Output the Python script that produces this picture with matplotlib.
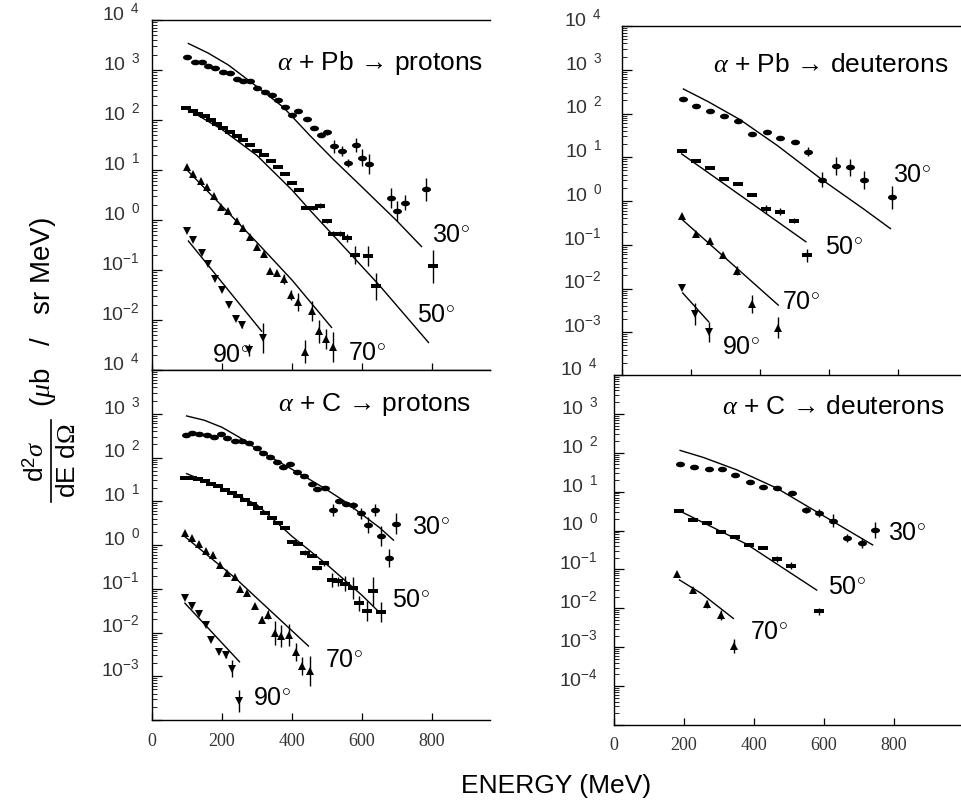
import numpy as np
import matplotlib
matplotlib.use('Agg')
import matplotlib.pyplot as plt
from matplotlib import transforms
from matplotlib.lines import Line2D
from matplotlib.ticker import FixedLocator, LogLocator, NullFormatter, NullLocator

plt.rcParams['font.family'] = ['Liberation Sans', 'DejaVu Sans']
plt.rcParams['mathtext.fontset'] = 'custom'
plt.rcParams['mathtext.rm'] = 'Liberation Serif'
plt.rcParams['mathtext.it'] = 'Liberation Serif:italic'
plt.rcParams['mathtext.sf'] = 'Liberation Sans'

# ---------------- data: alpha + Pb -> protons ----------------
pbp30_E = [99, 123, 142, 161, 180, 204, 223, 242, 261, 280, 301, 323, 342, 361, 380, 399, 418, 442,
           463, 482, 501, 520, 542, 561, 583, 601, 621, 682, 701, 722, 782]
pbp30_y = [1800, 1470, 1470, 1200, 1080, 925, 857, 649, 610, 610, 441, 366, 314, 249, 183, 124, 149, 106,
           70, 51, 57, 30, 24, 13.6, 31, 17.5, 13.2, 2.8, 1.5, 2.2, 4.1]
pbp30_err = [0, 0, 0, 0, 0, 0, 0, 0, 0, 0, 0, 0, 0, 0, 0, 0, 0, 0,
             0, 0.05, 0.05, 0.13, 0.1, 0.08, 0.14, 0.17, 0.2, 0.2, 0.2, 0.15, 0.23]
pbp30_fitE = [104, 160, 218, 271, 320, 376, 451, 520, 600, 700, 770]
pbp30_fit = [3390, 2190, 1260, 661, 363, 178, 49, 15.8, 4.57, 0.955, 0.295]

pbp50_E = [97, 116, 132, 151, 168, 185, 204, 223, 242, 261, 280, 299, 320, 339, 359, 380, 399, 421, 440,
           461, 480, 499, 518, 537, 558, 580, 618, 639, 802]
pbp50_y = [175, 152, 134, 119, 102, 84, 70, 57, 48, 39, 32, 24.5, 19.5, 14.9, 11.3, 8.3, 5.6, 3.95, 1.77,
           1.72, 1.91, 0.95, 0.53, 0.53, 0.44, 0.197, 0.188, 0.047, 0.119]
pbp50_err = [0, 0, 0, 0, 0, 0, 0, 0, 0, 0, 0, 0, 0, 0, 0, 0, 0, 0, 0,
             0.03, 0.05, 0.03, 0.05, 0.05, 0.08, 0.18, 0.2, 0.27, 0.33]
pbp50_fitE = [100, 200, 300, 400, 451, 550, 650, 790]
pbp50_fit = [166, 64.6, 19.5, 3.98, 1.58, 0.282, 0.049, 0.00355]

pbp70_E = [99, 118, 139, 158, 177, 197, 218, 242, 261, 280, 299, 320, 337, 356, 377, 396, 418, 437,
           456, 477, 497, 516]
pbp70_y = [11.7, 8.3, 5.9, 4.5, 3.04, 1.85, 1.52, 0.955, 0.70, 0.455, 0.286, 0.21, 0.094, 0.087, 0.067,
           0.032, 0.0234, 0.0023, 0.0148, 0.006, 0.0042, 0.0029]
pbp70_err = [0, 0, 0, 0, 0, 0, 0, 0, 0, 0, 0, 0, 0, 0, 0.1, 0.1, 0.18, 0.23, 0.2, 0.23, 0.2, 0.3]
pbp70_fitE = [100, 200, 300, 400, 513]
pbp70_fit = [10, 1.9, 0.355, 0.063, 0.0071]

pbp90_E = [99, 118, 142, 161, 180, 199, 221, 240, 256, 278, 318]
pbp90_y = [0.60, 0.39, 0.22, 0.132, 0.067, 0.040, 0.020, 0.0105, 0.0079, 0.0025, 0.0043]
pbp90_err = [0, 0, 0, 0, 0, 0, 0, 0, 0.05, 0.12, 0.3]
pbp90_fitE = [104, 313]
pbp90_fit = [0.38, 0.006]

# ---------------- data: alpha + C -> protons ----------------
cp30_E = [97, 113, 135, 156, 177, 196, 215, 237, 256, 278, 299, 318, 337, 356, 375, 394, 413, 434,
          456, 472, 494, 516, 535, 554, 575, 596, 617, 636, 655, 676, 697]
cp30_y = [327, 357, 344, 327, 290, 344, 280, 243, 235, 211, 163, 125, 105, 81, 60, 72, 46, 37,
          25, 19.5, 20.4, 6.25, 10.2, 8.85, 8.1, 5.25, 2.85, 6.25, 1.6, 0.50, 3.1]
cp30_err = [0, 0, 0, 0, 0, 0, 0, 0, 0, 0, 0, 0, 0, 0, 0, 0, 0, 0,
            0, 0.03, 0.03, 0.13, 0.05, 0.05, 0.08, 0.13, 0.19, 0.13, 0.23, 0.21, 0.23]
cp30_fitE = [99, 150, 200, 250, 300, 350, 400, 450, 500, 550, 600, 650, 690]
cp30_fit = [891, 708, 490, 288, 155, 91, 53.7, 31.6, 18.2, 10, 5.0, 2.5, 1.29]

cp50_E = [95, 113, 132, 151, 170, 190, 209, 228, 247, 266, 285, 304, 323, 342, 361, 380, 399, 418,
          437, 456, 472, 491, 513, 532, 551, 573, 592, 613, 632, 653]
cp50_y = [34.4, 34.4, 31.6, 28.4, 25.2, 21.9, 18.4, 15.5, 13.0, 10.9, 8.85, 7.18, 5.43, 4.25, 3.21, 2.39,
          1.19, 1.05, 0.668, 0.562, 0.295, 0.38, 0.158, 0.148, 0.130, 0.104, 0.047, 0.031, 0.087, 0.029]
cp50_err = [0, 0, 0, 0, 0, 0, 0, 0, 0, 0, 0, 0, 0, 0, 0, 0, 0, 0,
            0.05, 0, 0.05, 0.05, 0.17, 0.1, 0.17, 0.25, 0.17, 0.23, 0.34, 0.23]
cp50_fitE = [99, 200, 300, 400, 500, 600, 651]
cp50_fit = [42.7, 20, 8.3, 1.58, 0.355, 0.0708, 0.0282]

cp70_E = [95, 113, 135, 154, 173, 194, 213, 237, 251, 272, 294, 313, 332, 351, 370, 392, 411, 430, 451]
cp70_y = [1.9, 1.42, 1.05, 0.74, 0.59, 0.35, 0.227, 0.19, 0.098, 0.080, 0.040, 0.0197, 0.0256,
          0.0098, 0.0082, 0.0086, 0.00357, 0.00172, 0.00132]
cp70_err = [0, 0, 0, 0, 0, 0, 0, 0, 0, 0, 0, 0.08, 0.1, 0.28, 0.25, 0.25, 0.21, 0.21, 0.34]
cp70_fitE = [94, 237, 447]
cp70_fit = [1.55, 0.178, 0.0049]

cp90_E = [95, 113, 135, 154, 170, 192, 211, 230, 250]
cp90_y = [0.061, 0.040, 0.027, 0.0152, 0.0067, 0.0036, 0.0030, 0.0015, 0.000275]
cp90_err = [0, 0, 0, 0, 0, 0, 0.06, 0.2, 0.25]
cp90_fitE = [94, 250]
cp90_fit = [0.0468, 0.00214]

# ---------------- data: alpha + Pb -> deuterons ----------------
pbd30_E = [178, 214, 255, 295, 337, 376, 419, 458, 501, 540, 581, 620, 661, 701, 784]
pbd30_y = [213, 150, 115, 88.5, 68, 33.7, 38.7, 28.2, 22, 13.5, 3.03, 6.3, 5.9, 3.03, 1.21]
pbd30_err = [0, 0, 0, 0, 0, 0, 0, 0, 0.05, 0.1, 0.17, 0.2, 0.2, 0.2, 0.27]
pbd30_fitE = [178, 250, 342, 450, 581, 700, 778]
pbd30_fit = [363, 186, 72.4, 18.6, 3.02, 0.66, 0.234]

pbd50_E = [173, 214, 255, 295, 337, 376, 417, 458, 498, 537]
pbd50_y = [14.2, 8.24, 5.8, 3.13, 2.45, 1.37, 0.656, 0.57, 0.355, 0.058]
pbd50_err = [0, 0, 0, 0, 0, 0, 0.1, 0.08, 0.05, 0.15]
pbd50_fitE = [173, 350, 533]
pbd50_fit = [11.9, 1.23, 0.117]

pbd70_E = [173, 214, 255, 293, 334, 376, 453]
pbd70_y = [0.453, 0.175, 0.124, 0.058, 0.0254, 0.00437, 0.00128]
pbd70_err = [0, 0, 0.05, 0.05, 0.1, 0.2, 0.23]
pbd70_fitE = [176, 453]
pbd70_fit = [0.367, 0.00417]

pbd90_E = [173, 211, 253]
pbd90_y = [0.0105, 0.00258, 0.00102]
pbd90_err = [0, 0.25, 0.23]
pbd90_fitE = [176, 251]
pbd90_fit = [0.0079, 0.00174]

# ---------------- data: alpha + C -> deuterons ----------------
cd30_E = [189, 229, 270, 308, 346, 389, 427, 467, 508, 549, 587, 627, 665, 708, 746]
cd30_y = [51.6, 42.4, 37.6, 37.6, 26.9, 18.1, 13.5, 12.7, 9.1, 3.39, 2.78, 1.80, 0.634, 0.471, 1.04]
cd30_err = [0, 0, 0, 0, 0, 0, 0, 0, 0, 0.08, 0.1, 0.17, 0.1, 0.13, 0.2]
cd30_fitE = [189, 255, 351, 465, 570, 739]
cd30_fit = [115, 76, 36.3, 12.3, 3.39, 0.427]

cd50_E = [187, 227, 265, 305, 346, 387, 425, 467, 505, 587]
cd50_y = [3.26, 1.87, 1.54, 0.94, 0.67, 0.427, 0.351, 0.186, 0.126, 0.0083]
cd50_err = [0, 0, 0, 0, 0, 0, 0, 0.07, 0.1, 0.1]
cd50_fitE = [191, 379, 579]
cd50_fit = [3.09, 0.447, 0.0295]

cd70_E = [181, 225, 265, 305, 343]
cd70_y = [0.0752, 0.0297, 0.0127, 0.0068, 0.00107]
cd70_err = [0, 0, 0.1, 0.13, 0.18]
cd70_fitE = [187, 250, 341]
cd70_fit = [0.0537, 0.024, 0.0055]

x_ticks = [0, 200, 400, 600, 800]
x_ticklabels = ['0', '200', '400', '600', '800']

# ---------------- figure ----------------
W, H = 961, 802
fig = plt.figure(figsize=(W / 100, H / 100), dpi=100)


def px_axes(x0, y0, x1, y1):
    return fig.add_axes([x0 / W, 1 - y1 / H, (x1 - x0) / W, (y1 - y0) / H])


th = np.linspace(0, 2 * np.pi, 25)
ellipse = list(zip(np.cos(th), 0.62 * np.sin(th)))
rect = [(-1, -0.55), (1, -0.55), (1, 0.55), (-1, 0.55), (-1, -0.55)]
markers = {30: (ellipse, 6.5), 50: (rect, 6.5), 70: ('^', 5.5), 90: ('v', 5.5)}


def setup(ax, xmax, ylo, yhi, show_xlabels, label_pad_px):
    ax.set_yscale('log')
    ax.set_xlim(0, xmax)
    ax.set_ylim(10.0 ** ylo, 10.0 ** yhi)
    ax.spines['right'].set_visible(False)
    for s in ax.spines.values():
        s.set_linewidth(1.0)
    ax.yaxis.set_major_locator(FixedLocator([10.0 ** k for k in range(ylo, yhi + 1)]))
    ax.yaxis.set_minor_locator(LogLocator(base=10, subs=np.arange(2, 10), numticks=100))
    ax.yaxis.set_major_formatter(NullFormatter())
    ax.yaxis.set_minor_formatter(NullFormatter())
    ax.tick_params(axis='y', which='major', direction='in', length=7, width=0.9, right=False)
    ax.tick_params(axis='y', which='minor', direction='in', length=3.5, width=0.6, right=False)
    ax.xaxis.set_major_locator(FixedLocator(x_ticks))
    ax.xaxis.set_minor_locator(NullLocator())
    ax.tick_params(axis='x', which='major', direction='in', length=5, width=0.9, top=False, pad=9,
                   labelsize=13, labelcolor='#333333')
    if show_xlabels:
        ax.set_xticklabels(x_ticklabels, fontfamily='Liberation Serif')
    else:
        ax.set_xticklabels([])
    trans = transforms.blended_transform_factory(ax.transAxes, ax.transData) + \
        transforms.ScaledTranslation(-label_pad_px / 100, 7 / 100, fig.dpi_scale_trans)
    for k in range(ylo + 1, yhi + 1):
        if k < 0:
            s = r'$\mathregular{10^{-%d}}$' % (-k)
        else:
            s = r'$\mathregular{10^{\ \ %d}}$' % k
        ax.text(0, 10.0 ** k, s, transform=trans, ha='right', va='center', fontsize=14,
                color='#333333', clip_on=False)


def draw(ax, E, y, err, angle, fitE, fit):
    E = np.asarray(E, float)
    y = np.asarray(y, float)
    err = np.asarray(err, float)
    lo = y - y / 10 ** err
    hi = y * 10 ** err - y
    m = err > 0
    ax.errorbar(E[m], y[m], yerr=[lo[m], hi[m]], fmt='none', ecolor='black', elinewidth=1.0, capsize=0)
    mk, ms = markers[angle]
    ax.plot(E, y, linestyle='none', marker=mk, markersize=ms, color='black', markeredgewidth=0)
    ax.plot(fitE, fit, color='black', lw=1.0)


def ftext(x, y, s, size=16, ha='left', **kw):
    fig.text(x / W, 1 - y / H, s, ha=ha, va='center', fontsize=size, **kw)


# top-left: alpha + Pb -> protons
ax1 = px_axes(152, 20, 490, 370)
setup(ax1, (490 - 152) / 0.35, -3, 4, False, 12)
draw(ax1, pbp30_E, pbp30_y, pbp30_err, 30, pbp30_fitE, pbp30_fit)
draw(ax1, pbp50_E, pbp50_y, pbp50_err, 50, pbp50_fitE, pbp50_fit)
draw(ax1, pbp70_E, pbp70_y, pbp70_err, 70, pbp70_fitE, pbp70_fit)
draw(ax1, pbp90_E, pbp90_y, pbp90_err, 90, pbp90_fitE, pbp90_fit)

# bottom-left: alpha + C -> protons
ax2 = px_axes(152, 370, 490, 720)
setup(ax2, (490 - 152) / 0.35, -4, 4, True, 12)
draw(ax2, cp30_E, cp30_y, cp30_err, 30, cp30_fitE, cp30_fit)
draw(ax2, cp50_E, cp50_y, cp50_err, 50, cp50_fitE, cp50_fit)
draw(ax2, cp70_E, cp70_y, cp70_err, 70, cp70_fitE, cp70_fit)
draw(ax2, cp90_E, cp90_y, cp90_err, 90, cp90_fitE, cp90_fit)

# top-right: alpha + Pb -> deuterons
ax3 = px_axes(622, 26, 967, 376)
setup(ax3, 1000, -4, 4, False, 20)
draw(ax3, pbd30_E, pbd30_y, pbd30_err, 30, pbd30_fitE, pbd30_fit)
draw(ax3, pbd50_E, pbd50_y, pbd50_err, 50, pbd50_fitE, pbd50_fit)
draw(ax3, pbd70_E, pbd70_y, pbd70_err, 70, pbd70_fitE, pbd70_fit)
draw(ax3, pbd90_E, pbd90_y, pbd90_err, 90, pbd90_fitE, pbd90_fit)

# bottom-right: alpha + C -> deuterons
ax4 = px_axes(614, 375, 964, 725)
setup(ax4, 1000, -5, 4, True, 16)
draw(ax4, cd30_E, cd30_y, cd30_err, 30, cd30_fitE, cd30_fit)
draw(ax4, cd50_E, cd50_y, cd50_err, 50, cd50_fitE, cd50_fit)
draw(ax4, cd70_E, cd70_y, cd70_err, 70, cd70_fitE, cd70_fit)

# panel titles
ftext(277, 63, r'$\alpha$ + Pb → protons', size=19)
ftext(278, 405, r'$\alpha$ + C → protons', size=19)
ftext(713, 65, r'$\alpha$ + Pb → deuterons', size=19)
ftext(722, 407, r'$\alpha$ + C → deuterons', size=19)

# angle labels
for (x, y, a) in [(432, 235, 30), (417, 315, 50), (348, 353, 70), (212, 355, 90),
                  (893, 175, 30), (825, 247, 50), (782, 302, 70), (722, 347, 90),
                  (412, 527, 30), (392, 600, 50), (325, 660, 70), (253, 698, 90),
                  (888, 533, 30), (828, 587, 50), (750, 632, 70)]:
    ftext(x, y, '%d$^{\\circ}$' % a, size=18)

# axis labels
ftext(556, 786, 'ENERGY (MeV)', size=19, ha='center')
fig.text(43 / W, 1 - 312 / H, r'($\mu$b   /   sr MeV)', rotation=90, ha='center', va='center', fontsize=20)
fig.text(36 / W, 1 - 461 / H, r'd$^{\mathsf{2}}$$\sigma$', rotation=90, ha='center', va='center', fontsize=19)
fig.text(68 / W, 1 - 461 / H, r'dE d$\Omega$', rotation=90, ha='center', va='center', fontsize=19)
fig.add_artist(Line2D([51 / W, 51 / W], [1 - 420 / H, 1 - 502 / H], color='black', lw=1.2,
                      transform=fig.transFigure))

fig.savefig('out.png', dpi=100)
